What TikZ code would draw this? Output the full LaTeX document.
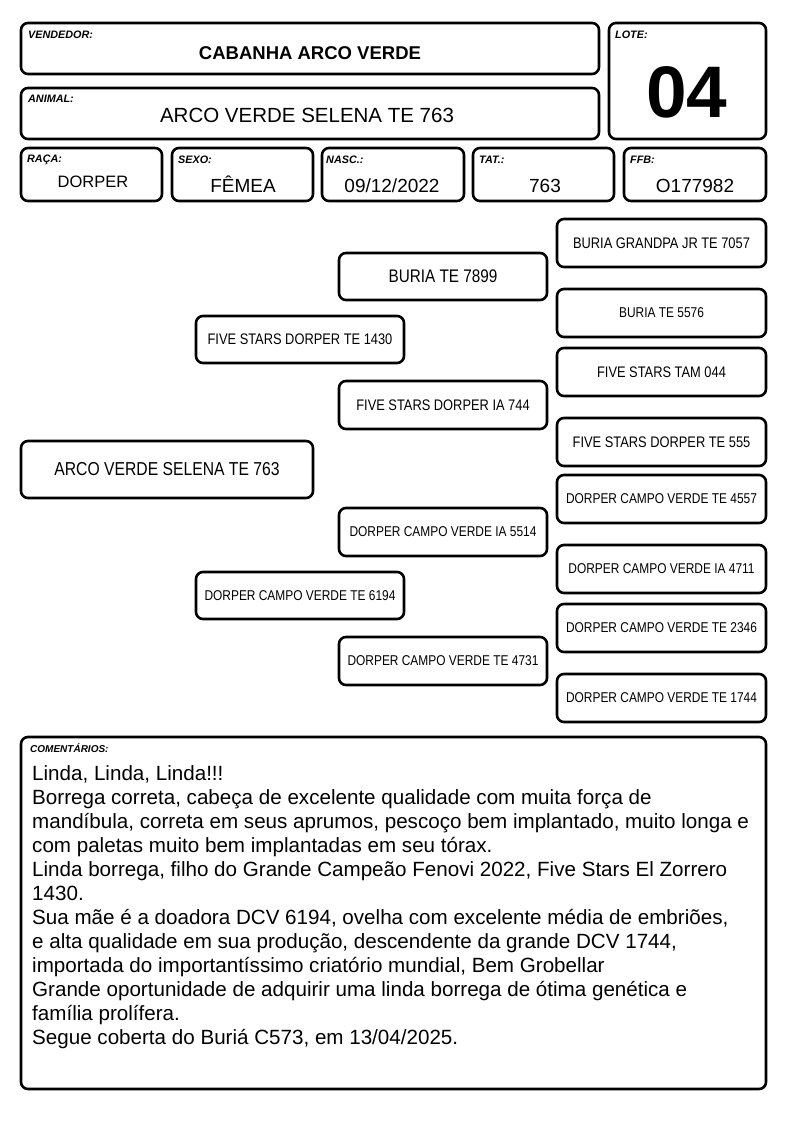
\documentclass[tikz,border=0pt]{standalone}
\usepackage{fontspec}
\setmainfont{Liberation Sans}
\newfontfamily\narrowfont[FakeStretch=0.84]{Liberation Sans}
\begin{document}
\begin{tikzpicture}[x=1pt,y=-1pt,
  box/.style={draw=black, line width=2.6pt, rounded corners=7pt, fill=white, inner sep=0pt, outer sep=0pt},
  lbl/.style={anchor=base west, inner sep=0pt, font=\fontsize{10.8}{12}\selectfont\bfseries\itshape},
  val/.style={anchor=base, inner sep=0pt, font=\fontsize{19}{22}\selectfont},
  ped/.style={box, minimum width=208pt, minimum height=47pt, font=\narrowfont\fontsize{15.3}{18}\selectfont},
  pedsmall/.style={ped, font=\narrowfont\fontsize{14.2}{17}\selectfont},
  ggp/.style={ped, minimum width=209pt, minimum height=48pt}
]
\useasboundingbox (0,0) rectangle (794,1123);
\fill[white] (0,0) rectangle (794,1123);

% header boxes
\node[box, minimum width=578pt, minimum height=51pt] (vend) at (310,48.5) {};
\node[box, minimum width=578pt, minimum height=51pt] (anim) at (310,113.5) {};
\node[box, minimum width=157pt, minimum height=116pt] (lote) at (687.5,81) {};
\node[box, minimum width=141pt, minimum height=53pt] (raca) at (91.5,174.5) {};
\node[box, minimum width=141pt, minimum height=53pt] (sexo) at (242.5,174.5) {};
\node[box, minimum width=142pt, minimum height=53pt] (nasc) at (393,174.5) {};
\node[box, minimum width=141pt, minimum height=53pt] (tat) at (543.5,174.5) {};
\node[box, minimum width=142pt, minimum height=53pt] (ffb) at (695,174.5) {};

\node[lbl] (lvend) at (28,39) {VENDEDOR:};
\node[lbl] (lanim) at (28,103) {ANIMAL:};
\node[lbl] (llote) at (615,38.5) {LOTE:};
\node[lbl] (lraca) at (27,163) {RAÇA:};
\node[lbl] (lsexo) at (178,164) {SEXO:};
\node[lbl] (lnasc) at (326,164) {NASC.:};
\node[lbl] (ltat) at (479,164) {TAT.:};
\node[lbl] (lffb) at (630,164) {FFB:};

\node[val, font=\fontsize{18.5}{22}\selectfont\bfseries] (vvend) at (310,60) {CABANHA ARCO VERDE};
\node[val, font=\fontsize{20.5}{24}\selectfont] (vanim) at (307,123) {ARCO VERDE SELENA TE 763};
\node[val, font=\fontsize{73}{80}\selectfont\bfseries] (vlote) at (687,117.5) {04};
\node[val, font=\fontsize{16.5}{20}\selectfont] (vraca) at (93,187.5) {DORPER};
\node[val] (vsexo) at (243,192.5) {FÊMEA};
\node[val] (vnasc) at (392,192.5) {09/12/2022};
\node[val] (vtat) at (545,192.5) {763};
\node[val] (vffb) at (695,192.5) {O177982};

% pedigree
\node[box, minimum width=292pt, minimum height=57pt, font=\narrowfont\fontsize{18.7}{22}\selectfont] (p0) at (167,469.5) {ARCO VERDE SELENA TE 763};
\node[ped] (s) at (300,339.5) {FIVE STARS DORPER TE 1430};
\node[pedsmall] (d) at (300,595.5) {DORPER CAMPO VERDE TE 6194};
\node[ped, font=\narrowfont\fontsize{18.2}{21}\selectfont] (ss) at (443,276.5) {BURIA TE 7899};
\node[ped, minimum height=48pt] (sd) at (443,405) {FIVE STARS DORPER IA 744};
\node[pedsmall, minimum height=48pt] (ds) at (443,532) {DORPER CAMPO VERDE IA 5514};
\node[pedsmall, minimum height=48pt] (dd) at (443,661) {DORPER CAMPO VERDE TE 4731};

\node[ggp] (sss) at (661.5,243) {BURIA GRANDPA JR TE 7057};
\node[ggp, font=\narrowfont\fontsize{14.2}{17}\selectfont] (ssd) at (661.5,313) {BURIA TE 5576};
\node[ggp] (sds) at (661.5,372) {FIVE STARS TAM 044};
\node[ggp] (sdd) at (661.5,442) {FIVE STARS DORPER TE 555};
\node[ggp, font=\narrowfont\fontsize{14.2}{17}\selectfont] (dss) at (661.5,499) {DORPER CAMPO VERDE TE 4557};
\node[ggp, font=\narrowfont\fontsize{14.2}{17}\selectfont] (dsd) at (661.5,569) {DORPER CAMPO VERDE IA 4711};
\node[ggp, font=\narrowfont\fontsize{14.2}{17}\selectfont] (dds) at (661.5,628) {DORPER CAMPO VERDE TE 2346};
\node[ggp, font=\narrowfont\fontsize{14.2}{17}\selectfont] (ddd) at (661.5,698) {DORPER CAMPO VERDE TE 1744};

% comments
\node[box, minimum width=745pt, minimum height=352pt] (com) at (393.5,913) {};
\node[lbl, font=\fontsize{10}{12}\selectfont\bfseries\itshape] (lcom) at (30,752) {COMENTÁRIOS:};
\node[anchor=base west, inner sep=0pt, align=left, font=\fontsize{20.6}{24}\selectfont] (tcom) at (32,1044) {Linda, Linda, Linda!!!\\
Borrega correta, cabeça de excelente qualidade com muita força de\\
mandíbula, correta em seus aprumos, pescoço bem implantado, muito longa e\\
com paletas muito bem implantadas em seu tórax.\\
Linda borrega, filho do Grande Campeão Fenovi 2022, Five Stars El Zorrero\\
1430.\\
Sua mãe é a doadora DCV 6194, ovelha com excelente média de embriões,\\
e alta qualidade em sua produção, descendente da grande DCV 1744,\\
importada do importantíssimo criatório mundial, Bem Grobellar\\
Grande oportunidade de adquirir uma linda borrega de ótima genética e\\
família prolífera.\\
Segue coberta do Buriá C573, em 13/04/2025.};
\end{tikzpicture}
\end{document}
